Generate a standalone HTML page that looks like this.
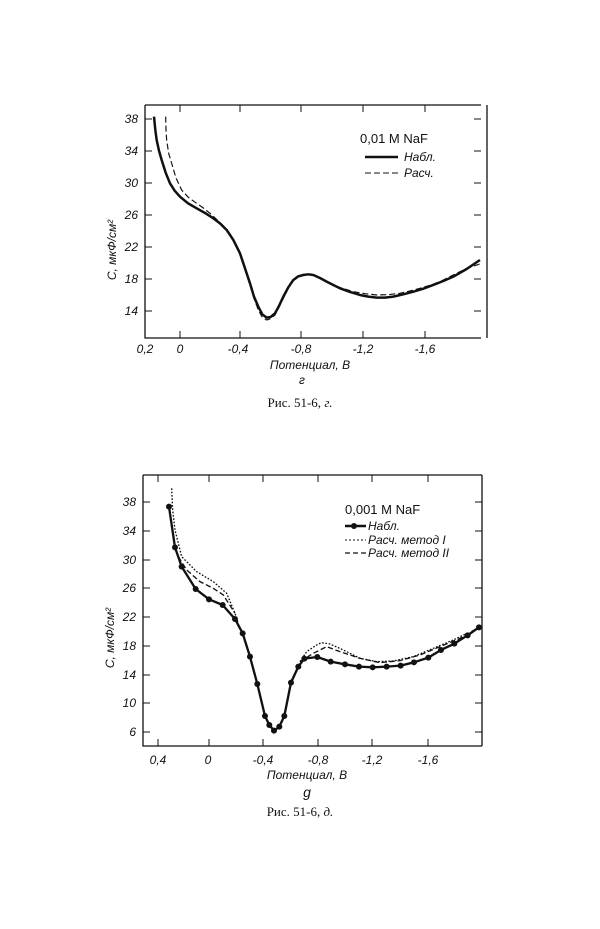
<!DOCTYPE html>
<html><head><meta charset="utf-8"><style>
body{margin:0;background:#fff;}
svg{display:block;font-family:"Liberation Sans",sans-serif;}
.t{font-size:12px;font-style:italic;fill:#111}
.c{font-family:"Liberation Serif",serif;font-size:13px;fill:#111}
</style></head><body>
<svg width="600" height="929" viewBox="0 0 600 929" xmlns="http://www.w3.org/2000/svg">
<!-- Chart 1 -->
<g stroke="#111" fill="none">
<path d="M145,105 H481 M145,105 V338 H481 M487,105 V338" stroke-width="1.3"/>
<path d="M145,119 h7 M145,151 h7 M145,183 h7 M145,215 h7 M145,247 h7 M145,279 h7 M145,311 h7 M481,119 h-7 M481,151 h-7 M481,183 h-7 M481,215 h-7 M481,247 h-7 M481,279 h-7 M481,311 h-7
M180,338 v-7 M240,338 v-7 M301,338 v-7 M363,338 v-7 M425,338 v-7 M180,105 v7 M240,105 v7 M301,105 v7 M363,105 v7 M425,105 v7" stroke-width="1"/>
<g transform="translate(100,90) scale(0.3333)">
<polyline stroke-width="7.5" stroke-linejoin="round" points="162,80 166,120 170,150 177,182 185,210 197,248 210,280 224,302 240,320 264,340 290,355 315,369 340,385 360,400 380,420 400,450 420,490 435,535 450,580 462,620 475,650 487,673 500,683 512,681 525,670 537,648 550,620 565,592 580,570 595,559 610,555 625,553 640,555 660,564 680,575 700,585 720,595 750,606 780,615 805,620 830,623 855,623 880,620 910,613 940,605 970,596 1000,585 1030,573 1060,560 1100,537 1140,510"/>
<polyline stroke-width="3.5" stroke-dasharray="18,9" points="197,80 198,120 200,150 206,190 215,220 228,264 245,300 265,322 290,340 310,354 330,370 355,393 380,420 400,452 420,490 435,538 450,585 462,625 475,660 487,682 500,690 512,686 525,675 537,652 550,625 565,595 580,570 595,558 610,553 625,553 640,555 670,570 700,585 730,596 760,605 795,611 830,615 865,614 900,610 930,603 960,595 990,586 1020,575 1050,560 1080,545 1110,532 1145,520"/>
</g>
<path d="M365,157 H398" stroke-width="2.5"/>
<path d="M365,173 H398" stroke-width="1.1" stroke-dasharray="6,3"/>
</g>
<g class="t" text-anchor="end">
<text x="138" y="123">38</text><text x="138" y="155">34</text><text x="138" y="187">30</text><text x="138" y="219">26</text><text x="138" y="251">22</text><text x="138" y="283">18</text><text x="138" y="315">14</text>
</g>
<g class="t" text-anchor="middle">
<text x="145" y="353">0,2</text><text x="180" y="353">0</text><text x="238" y="353">-0,4</text><text x="301" y="353">-0,8</text><text x="363" y="353">-1,2</text><text x="425" y="353">-1,6</text>
<text x="310" y="369">Потенциал, В</text><text x="302" y="384">г</text>
</g>
<text class="t" transform="translate(116,250) rotate(-90)" text-anchor="middle">С, мкФ/см²</text>
<text class="t" x="360" y="143" style="font-style:normal;font-size:13px">0,01 M NaF</text>
<text class="t" x="404" y="161">Набл.</text>
<text class="t" x="404" y="177">Расч.</text>
<text class="c" x="300" y="407" text-anchor="middle">Рис. 51-6, <tspan font-style="italic">г.</tspan></text>

<!-- Chart 2 -->
<g stroke="#111" fill="none">
<path d="M143,475 H482 M143,475 V746 H482 M482,475 V746" stroke-width="1.3"/>
<path d="M143,502 h7 M143,531 h7 M143,560 h7 M143,588 h7 M143,617 h7 M143,646 h7 M143,675 h7 M143,703 h7 M143,732 h7 M482,502 h-7 M482,531 h-7 M482,560 h-7 M482,588 h-7 M482,617 h-7 M482,646 h-7 M482,675 h-7 M482,703 h-7 M482,732 h-7
M158,746 v-7 M209,746 v-7 M263,746 v-7 M318,746 v-7 M372,746 v-7 M428,746 v-7 M158,475 v7 M209,475 v7 M263,475 v7 M318,475 v7 M372,475 v7 M428,475 v7" stroke-width="1"/>
<g transform="translate(100,470) scale(0.3333)">
<polyline stroke-width="4" stroke-dasharray="5,5" points="215,55 218,120 225,180 245,260 290,305 340,335 380,370 405,430 415,460"/>
<polyline stroke-width="4" stroke-dasharray="5,5" points="600,575 620,545 650,525 665,518 690,522 730,540 780,565 830,575 880,573 940,560 1000,535 1060,510 1100,490"/>
<polyline stroke-width="4" stroke-dasharray="16,8" points="235,260 260,300 300,335 340,355 370,375 405,430"/>
<polyline stroke-width="4" stroke-dasharray="16,8" points="600,575 640,550 680,530 720,545 780,565 840,578 900,572 960,555 1020,530 1080,505 1140,470"/>
<polyline stroke-width="7" stroke-linejoin="round" points="207,110 225,232 245,290 287,357 327,388 368,405 405,447 428,490 450,560 472,642 495,738 508,765 522,782 538,770 553,738 573,638 595,590 613,566 652,561 692,575 735,583 777,590 818,592 860,590 902,587 942,577 985,563 1023,540 1063,521 1103,496 1137,472"/>
<g fill="#111" stroke="none">
<circle cx="207" cy="110" r="9"/><circle cx="225" cy="232" r="9"/><circle cx="245" cy="290" r="9"/><circle cx="287" cy="357" r="9"/><circle cx="327" cy="388" r="9"/><circle cx="368" cy="405" r="9"/><circle cx="405" cy="447" r="9"/><circle cx="428" cy="490" r="9"/><circle cx="450" cy="560" r="9"/><circle cx="472" cy="642" r="9"/><circle cx="495" cy="738" r="9"/><circle cx="508" cy="765" r="9"/><circle cx="522" cy="782" r="9"/><circle cx="538" cy="770" r="9"/><circle cx="553" cy="738" r="9"/><circle cx="573" cy="638" r="9"/><circle cx="595" cy="590" r="9"/><circle cx="613" cy="566" r="9"/><circle cx="652" cy="561" r="9"/><circle cx="692" cy="575" r="9"/><circle cx="735" cy="583" r="9"/><circle cx="777" cy="590" r="9"/><circle cx="818" cy="592" r="9"/><circle cx="860" cy="590" r="9"/><circle cx="902" cy="587" r="9"/><circle cx="942" cy="577" r="9"/><circle cx="985" cy="563" r="9"/><circle cx="1023" cy="540" r="9"/><circle cx="1063" cy="521" r="9"/><circle cx="1103" cy="496" r="9"/><circle cx="1137" cy="472" r="9"/>
</g>
</g>
<path d="M345,526 H366" stroke-width="2.5"/>
<circle cx="354" cy="526" r="3" fill="#111" stroke="none"/>
<path d="M345,540 H366" stroke-width="1" stroke-dasharray="2,2"/>
<path d="M345,553 H366" stroke-width="1.2" stroke-dasharray="5,3"/>
</g>
<g class="t" text-anchor="end">
<text x="136" y="506">38</text><text x="136" y="535">34</text><text x="136" y="564">30</text><text x="136" y="592">26</text><text x="136" y="621">22</text><text x="136" y="650">18</text><text x="136" y="679">14</text><text x="136" y="707">10</text><text x="136" y="736">6</text>
</g>
<g class="t" text-anchor="middle">
<text x="158" y="764">0,4</text><text x="208" y="764">0</text><text x="263" y="764">-0,4</text><text x="318" y="764">-0,8</text><text x="372" y="764">-1,2</text><text x="428" y="764">-1,6</text>
<text x="307" y="779">Потенциал, В</text><text x="307" y="797" style="font-size:14px">g</text>
</g>
<text class="t" transform="translate(114,638) rotate(-90)" text-anchor="middle">С, мкФ/см²</text>
<text class="t" x="345" y="514" style="font-style:normal;font-size:13px">0,001 M NaF</text>
<text class="t" x="368" y="530">Набл.</text>
<text class="t" x="368" y="544">Расч. метод I</text>
<text class="t" x="368" y="557">Расч. метод II</text>
<text class="c" x="300" y="816" text-anchor="middle">Рис. 51-6, <tspan font-style="italic">д.</tspan></text>
</svg>
</body></html>
